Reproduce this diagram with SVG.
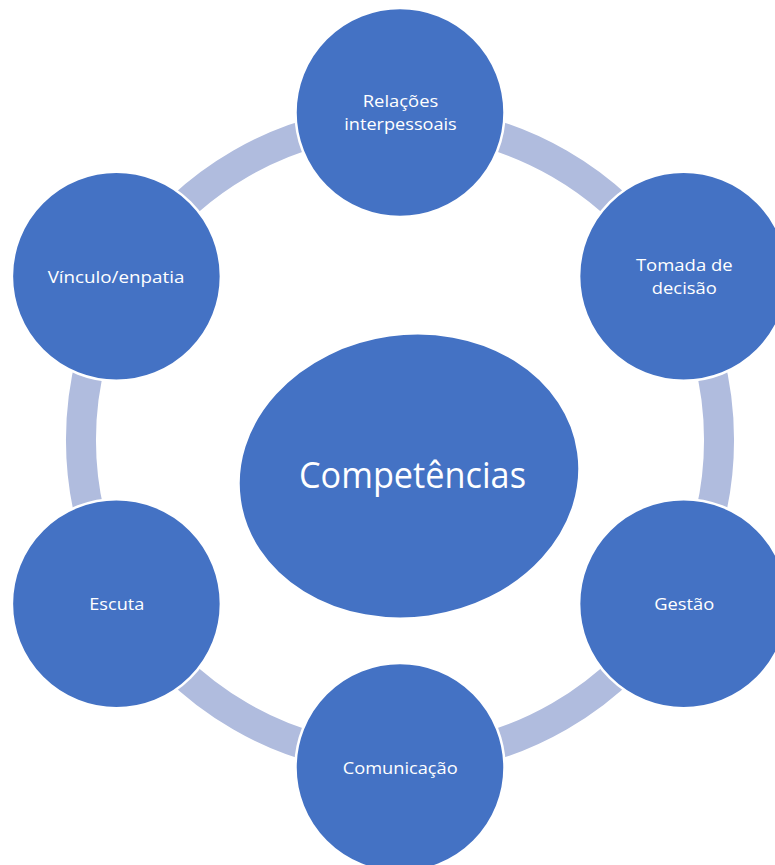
<svg xmlns="http://www.w3.org/2000/svg" width="775" height="865" viewBox="0 0 775 865">
<style>
.conn{fill:none;stroke:#B0BCDE;stroke-width:30}
.node{fill:#4472C4;stroke:#FFFFFF;stroke-width:2.5}
.lbl{fill:#FFFFFF;font-family:"Open Sans","Noto Sans","DejaVu Sans",sans-serif;font-size:17px;text-anchor:middle}
.big{fill:#FFFFFF;font-family:"Open Sans","Noto Sans","DejaVu Sans",sans-serif;font-size:36px;text-anchor:middle}
</style>
<rect width="775" height="865" fill="#FFFFFF"/>
<g id="connectors">
<path class="conn" d="M400,121 A319,319 0 0 1 676.3,280.5"/>
<path class="conn" d="M676.3,280.5 A319,319 0 0 1 676.3,599.5"/>
<path class="conn" d="M676.3,599.5 A319,319 0 0 1 400,759"/>
<path class="conn" d="M400,759 A319,319 0 0 1 123.7,599.5"/>
<path class="conn" d="M123.7,599.5 A319,319 0 0 1 123.7,280.5"/>
<path class="conn" d="M123.7,280.5 A319,319 0 0 1 400,121"/>
</g>
<g id="center">
<ellipse class="node" cx="409" cy="476" rx="171" ry="142" transform="rotate(-8 409 476)" stroke-width="0"/>
<text class="big" x="412.5" y="488" textLength="227" lengthAdjust="spacingAndGlyphs">Competências</text>
</g>
<g id="relacoes">
<circle class="node" cx="400" cy="112.5" r="104.5"/>
<text class="lbl" x="400.5" y="107.3" textLength="75.6" lengthAdjust="spacingAndGlyphs">Relações</text>
<text class="lbl" x="400.5" y="130.3" textLength="112.4" lengthAdjust="spacingAndGlyphs">interpessoais</text>
</g>
<g id="tomada">
<circle class="node" cx="683.6" cy="276.3" r="104.5"/>
<text class="lbl" x="684.3" y="271" textLength="96.7" lengthAdjust="spacingAndGlyphs">Tomada de</text>
<text class="lbl" x="684.3" y="294.3" textLength="65" lengthAdjust="spacingAndGlyphs">decisão</text>
</g>
<g id="gestao">
<circle class="node" cx="683.6" cy="603.7" r="104.5"/>
<text class="lbl" x="684.3" y="610" textLength="60" lengthAdjust="spacingAndGlyphs">Gestão</text>
</g>
<g id="comunicacao">
<circle class="node" cx="400" cy="767.5" r="104.5"/>
<text class="lbl" x="400.2" y="774.3" textLength="115" lengthAdjust="spacingAndGlyphs">Comunicação</text>
</g>
<g id="escuta">
<circle class="node" cx="116.4" cy="603.7" r="104.5"/>
<text class="lbl" x="116.8" y="610" textLength="55" lengthAdjust="spacingAndGlyphs">Escuta</text>
</g>
<g id="vinculo">
<circle class="node" cx="116.4" cy="276.3" r="104.5"/>
<text class="lbl" x="116" y="283.3" textLength="136.7" lengthAdjust="spacingAndGlyphs">Vínculo/enpatia</text>
</g>
</svg>
